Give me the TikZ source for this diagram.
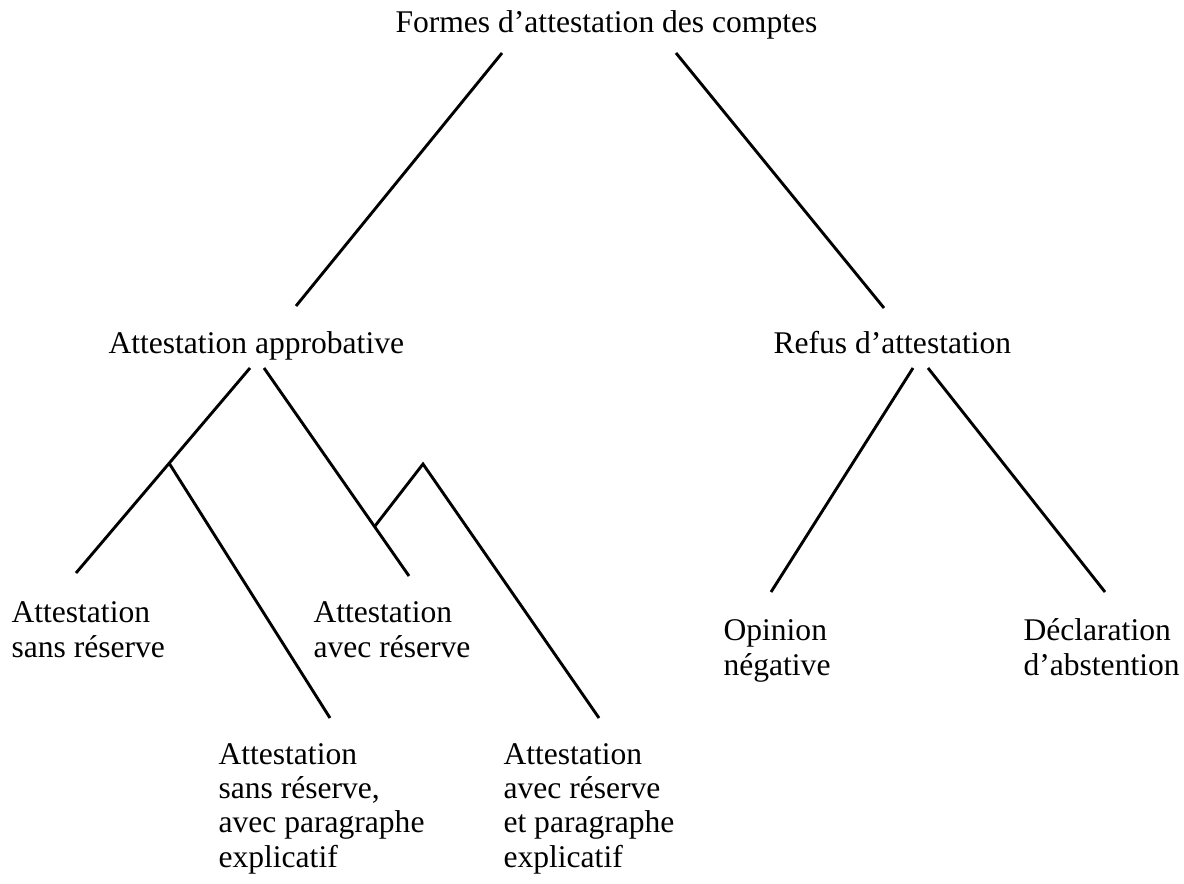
\documentclass[tikz,border=0pt]{standalone}
\usepackage{fontspec}
\setmainfont{Liberation Serif}
\usetikzlibrary{positioning}

\begin{document}
\begin{tikzpicture}[x=0.38pt, y=-0.38pt,
    lbl/.style={anchor=base west, inner sep=0pt, align=left,
      font=\fontsize{12}{13}\selectfont},
    branch/.style={line width=1.1pt, line cap=butt}
  ]
  \useasboundingbox (0,0) rectangle (1184,883);
  % labels (base = last line)
  \node[lbl] (formes) at (395,33) {Formes d’attestation des comptes};
  \node[lbl] (approb) at (108,353) {Attestation approbative};
  \node[lbl] (refus) at (773,353) {Refus d’attestation};
  \node[lbl] (sansres) at (11,657) {Attestation\\sans réserve};
  \node[lbl] (avecres) at (313,657) {Attestation\\avec réserve};
  \node[lbl] (sansexp) at (218,867) {Attestation\\sans réserve,\\avec paragraphe\\explicatif};
  \node[lbl] (avecexp) at (503,867) {Attestation\\avec réserve\\et paragraphe\\explicatif};
  \node[lbl] (opinion) at (723,675) {Opinion\\négative};
  \node[lbl] (abst) at (1023,675) {Déclaration\\d’abstention};
  % branch ends
  \coordinate (formesL) at (502,53);
  \coordinate (formesR) at (676,53);
  \coordinate (approbT) at (296,306);
  \coordinate (refusT) at (884,308);
  \coordinate (approbL) at (250,368);
  \coordinate (approbR) at (264,368);
  \coordinate (refusL) at (913,368);
  \coordinate (refusR) at (928,368);
  \coordinate (sansresT) at (76,573);
  \coordinate (avecresT) at (409,576);
  \coordinate (sansexpT) at (330,718);
  \coordinate (avecexpT) at (599,718);
  \coordinate (opinionT) at (771,592);
  \coordinate (abstT) at (1105,592);
  % forks
  \coordinate (forkL) at (169,463);
  \coordinate (forkR) at (375,526);
  \coordinate (peak) at (423,464);
  % tree
  \draw[branch] (formesL) -- (approbT);
  \draw[branch] (formesR) -- (refusT);
  \draw[branch] (approbL) -- (sansresT);
  \draw[branch] (forkL) -- (sansexpT);
  \draw[branch] (approbR) -- (avecresT);
  \draw[branch] (forkR) -- (peak) -- (avecexpT);
  \draw[branch] (refusL) -- (opinionT);
  \draw[branch] (refusR) -- (abstT);
\end{tikzpicture}
\end{document}
